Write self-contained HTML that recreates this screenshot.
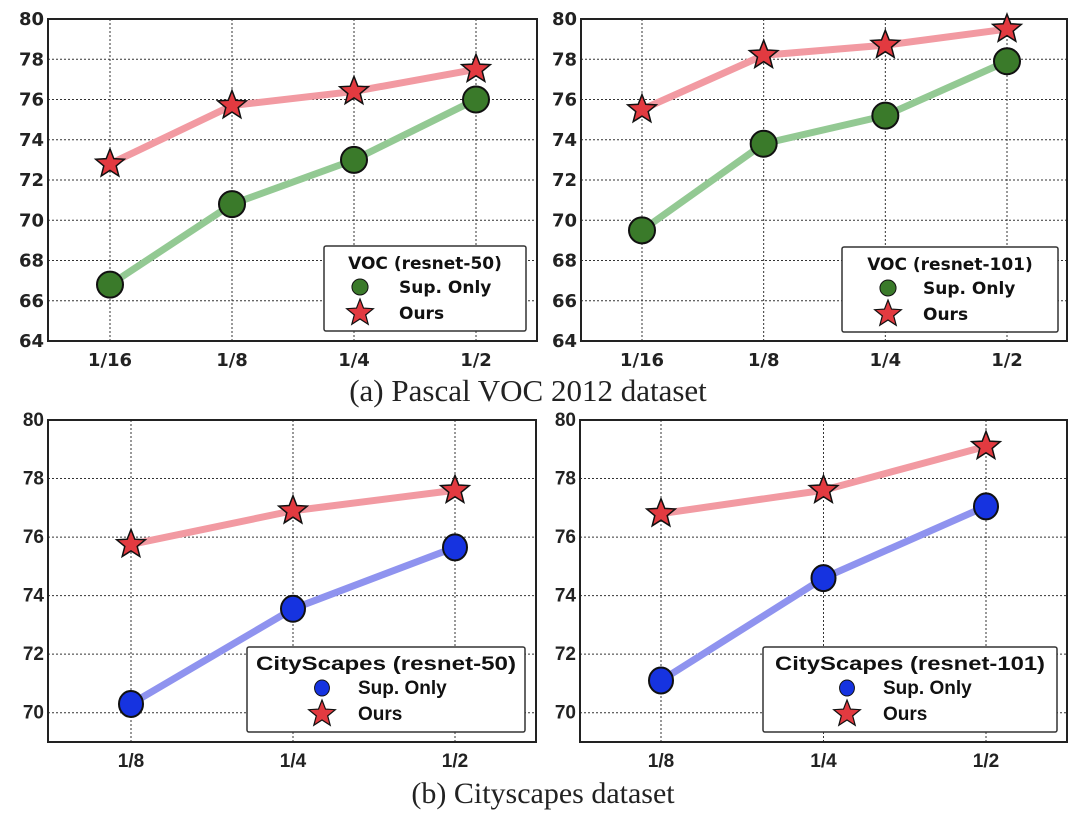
<!DOCTYPE html>
<html><head><meta charset="utf-8"><style>
body{margin:0;background:#fff;}
svg{display:block;}
</style></head><body>
<svg id="c" width="1080" height="817" xmlns="http://www.w3.org/2000/svg"></svg>
<script>
const catsVoc = ["1/16","1/8","1/4","1/2"];
const catsCity = ["1/8","1/4","1/2"];
const vocR50Sup = [66.8,70.8,73.0,76.0];
const vocR50Ours = [72.8,75.7,76.4,77.5];
const vocR101Sup = [69.5,73.8,75.2,77.9];
const vocR101Ours = [75.5,78.2,78.7,79.5];
const cityR50Sup = [70.3,73.55,75.65];
const cityR50Ours = [75.75,76.9,77.6];
const cityR101Sup = [71.1,74.6,77.05];
const cityR101Ours = [76.8,77.6,79.1];
const vocTicks = [64,66,68,70,72,74,76,78,80];
const cityTicks = [70,72,74,76,78,80];

const NS="http://www.w3.org/2000/svg";
const svg=document.getElementById('c');
function mk(t,a,p){const e=document.createElementNS(NS,t);for(const k in a)e.setAttribute(k,a[k]);(p||svg).appendChild(e);return e;}
function starPts(cx,cy,R,r){let s=[];for(let i=0;i<10;i++){const a=-Math.PI/2+i*Math.PI/5;const rr=i%2?r:R;s.push((cx+rr*Math.cos(a)).toFixed(1)+','+(cy+rr*Math.sin(a)).toFixed(1));}return s.join(' ');}

function panel(o){
  const g=mk('g',{});
  
  
  const yS=v=>o.y0+(o.ymax-v)/(o.ymax-o.ymin)*(o.y1-o.y0);
  const xS=i=>o.xt[0]+i*(o.xt[1]-o.xt[0])/(o.cats.length-1);
  const ff=o.ff;
  o.ticks.forEach(t=>{
    const y=yS(t);
    const l=mk('line',{x1:o.x0,x2:o.x1,y1:y,y2:y,stroke:'#333','stroke-width':1,'stroke-dasharray':'2,2'},g);
    
    const tx=mk('text',{x:o.x0-4,y:y+6,'text-anchor':'end','font-family':ff,'font-weight':'bold','font-size':o.fs,fill:'#222'},g);
    tx.textContent=t;
    
  });
  o.cats.forEach((c,i)=>{
    const x=xS(i);
    const l=mk('line',{x1:x,x2:x,y1:o.y0,y2:o.y1,stroke:'#333','stroke-width':1,'stroke-dasharray':'2,2'},g);
    
    const tx=mk('text',{x:x,y:o.y1+25,'text-anchor':'middle','font-family':ff,'font-weight':'bold','font-size':o.fs,fill:'#222'},g);
    tx.textContent=c;
    
  });
  const fr=mk('rect',{x:o.x0,y:o.y0,width:o.x1-o.x0,height:o.y1-o.y0,fill:'none',stroke:'#222','stroke-width':2},g);
  
  const pl1=mk('polyline',{points:o.sup.map((v,i)=>xS(i)+','+yS(v)).join(' '),fill:'none',stroke:o.lc,'stroke-width':7,'stroke-linejoin':'round'},g);
  
  const pl2=mk('polyline',{points:o.ours.map((v,i)=>xS(i)+','+yS(v)).join(' '),fill:'none',stroke:'#f29aa2','stroke-width':7,'stroke-linejoin':'round'},g);
  
  o.sup.forEach((v,i)=>{
    const c=mk('ellipse',{cx:xS(i),cy:yS(v),rx:o.rx,ry:13,fill:o.mc,stroke:'#111','stroke-width':2},g);
    
  });
  o.ours.forEach((v,i)=>{
    const s=mk('polygon',{points:starPts(xS(i),yS(v),15,6.5),fill:'#e23a40',stroke:'#111','stroke-width':1.5},g);
    
  });
  const L=o.leg;
  const lg=mk('g',{},g);
  
  mk('rect',{x:L[0],y:L[1],width:L[2]-L[0],height:L[3]-L[1],fill:'#fff',stroke:'#333','stroke-width':1.5,rx:2},lg);
  const ta={x:(L[0]+L[2])/2,y:L[1]+23,'text-anchor':'middle','font-family':ff,'font-weight':'bold','font-size':o.lfs,fill:'#111'};
  if(o.ttl){ta.textLength=o.ttl;ta.lengthAdjust='spacingAndGlyphs';}
  const ttl=mk('text',ta,lg);
  ttl.textContent=o.title;
  const mx=L[0]+o.lmx;
  const e1=mk('ellipse',{cx:mx,cy:L[1]+41,rx:o.rx*0.62,ry:8,fill:o.mc,stroke:'#111','stroke-width':1},lg);
  
  const e2=mk('polygon',{points:starPts(mx,L[1]+67,14,6),fill:'#e23a40',stroke:'#111','stroke-width':1.2},lg);
  
  const t1=mk('text',{x:mx+o.ltx,y:L[1]+47,'font-family':ff,'font-weight':'bold','font-size':o.lfs,fill:'#111'},lg);
  t1.textContent='Sup. Only';
  const t2=mk('text',{x:mx+o.ltx,y:L[1]+73,'font-family':ff,'font-weight':'bold','font-size':o.lfs,fill:'#111'},lg);
  t2.textContent='Ours';
}
const DJ='DejaVu Sans, Liberation Sans, sans-serif';
const LB='Liberation Sans, sans-serif';
panel({name:'voc-resnet50-chart',ff:DJ,x0:48,x1:537,y0:19,y1:341,ymin:64,ymax:80,xt:[110,476],cats:catsVoc,ticks:vocTicks,sup:vocR50Sup,ours:vocR50Ours,lc:'#93c993',mc:'#3a7a2a',rx:13,fs:18,lfs:17,leg:[324,246,526,331],title:'VOC (resnet-50)',lmx:36,ltx:39});
panel({name:'voc-resnet101-chart',ff:DJ,x0:581,x1:1067,y0:19,y1:341,ymin:64,ymax:80,xt:[642,1007],cats:catsVoc,ticks:vocTicks,sup:vocR101Sup,ours:vocR101Ours,lc:'#93c993',mc:'#3a7a2a',rx:13,fs:18,lfs:17,leg:[842,247,1058,332],title:'VOC (resnet-101)',lmx:46,ltx:35});
panel({name:'cityscapes-resnet50-chart',ff:LB,x0:48,x1:536,y0:420,y1:742,ymin:69,ymax:80,xt:[131,455],cats:catsCity,ticks:cityTicks,sup:cityR50Sup,ours:cityR50Ours,lc:'#8f93ef',mc:'#1633e0',rx:12,fs:19,lfs:19,ttl:260,leg:[247,647,525,732],title:'CityScapes (resnet-50)',lmx:75,ltx:36});
panel({name:'cityscapes-resnet101-chart',ff:LB,x0:580,x1:1067,y0:420,y1:742,ymin:69,ymax:80,xt:[661,986],cats:catsCity,ticks:cityTicks,sup:cityR101Sup,ours:cityR101Ours,lc:'#8f93ef',mc:'#1633e0',rx:12,fs:19,lfs:19,ttl:270,leg:[763,647,1057,732],title:'CityScapes (resnet-101)',lmx:84,ltx:36});

const c1=mk('text',{x:528,y:401,'text-anchor':'middle','font-family':'Liberation Serif, serif','font-size':31,fill:'#222'});
c1.textContent='(a) Pascal VOC 2012 dataset';


const c2=mk('text',{x:543,y:803,'text-anchor':'middle','font-family':'Liberation Serif, serif','font-size':30,fill:'#222'});
c2.textContent='(b) Cityscapes dataset';


</script>
</body></html>
